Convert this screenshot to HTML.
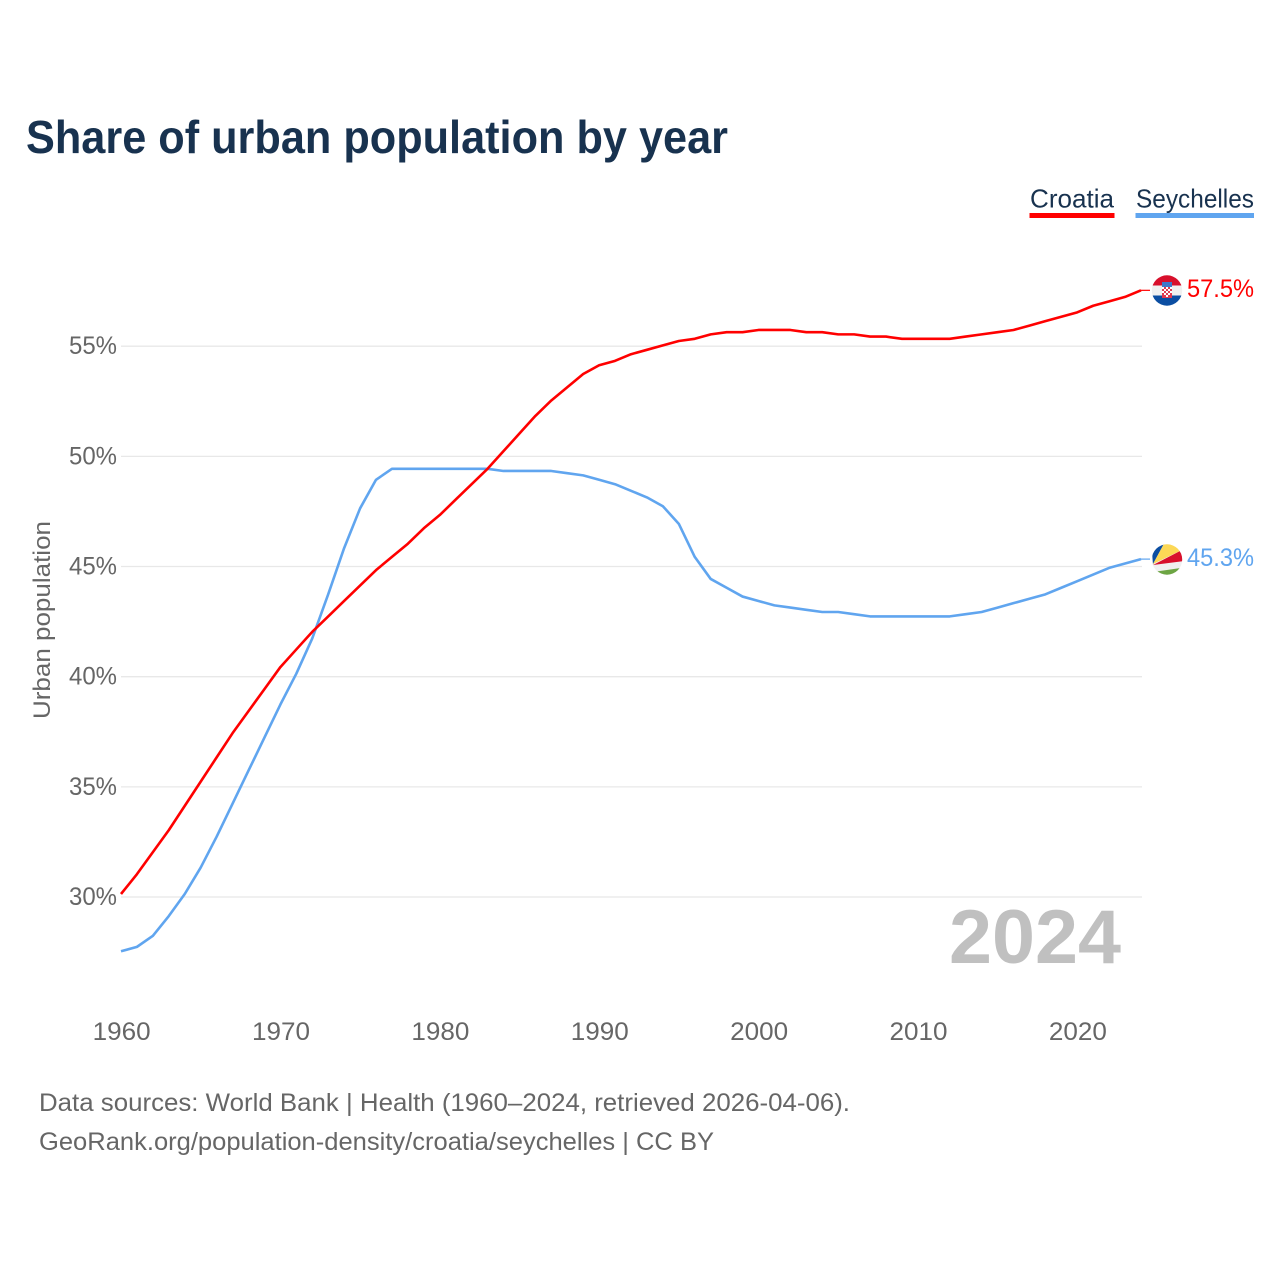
<!DOCTYPE html>
<html lang="en">
<head>
<meta charset="utf-8">
<title>Share of urban population by year</title>
<style>
html,body{margin:0;padding:0;background:#fff;width:1280px;height:1280px;overflow:hidden}
svg{display:block}
text{font-family:"Liberation Sans",sans-serif}
</style>
</head>
<body>
<svg id="chart" xmlns="http://www.w3.org/2000/svg" width="1280" height="1280" viewBox="0 0 1280 1280">
  <rect x="0" y="0" width="1280" height="1280" fill="#ffffff"/>
  <text x="26" y="153" font-size="46" font-weight="700" fill="#18324f" textLength="702" lengthAdjust="spacingAndGlyphs">Share of urban population by year</text>

  <g>
    <text x="1030" y="207.500" font-size="26" fill="#18324f" textLength="84" lengthAdjust="spacingAndGlyphs">Croatia</text>
    <rect x="1029.500" y="213" width="85" height="5" fill="#ff0000"/>
  </g>
  <g>
    <text x="1136" y="207.500" font-size="26" fill="#18324f" textLength="118" lengthAdjust="spacingAndGlyphs">Seychelles</text>
    <rect x="1135.500" y="213" width="118.500" height="5" fill="#60a5ef"/>
  </g>

  <g id="grid"></g>
  <g id="yticks"></g>
  <g id="xticks"></g>
  <text transform="translate(50 620) rotate(-90)" text-anchor="middle" font-size="24" fill="#666666" textLength="198" lengthAdjust="spacingAndGlyphs">Urban population</text>

  <text x="949" y="963" font-size="76" font-weight="700" fill="#c0c0c0" textLength="172" lengthAdjust="spacingAndGlyphs">2024</text>

  <g id="series" transform="translate(0 -0.8)"></g>

  <defs>
    <clipPath id="clip-hr"><circle cx="1167" cy="290.500" r="15.200"/></clipPath>
    <clipPath id="clip-sc"><circle cx="1167" cy="559.500" r="15.200"/></clipPath>
  </defs>
  <g id="flag-croatia" clip-path="url(#clip-hr)">
    <rect x="1151" y="275" width="32" height="10.500" fill="#d8102c"/>
    <rect x="1151" y="285.500" width="32" height="10" fill="#f0f0f0"/>
    <rect x="1151" y="295.500" width="32" height="11" fill="#0b4ea2"/>
    <rect x="1162" y="282" width="10" height="5" fill="#3f78c9"/>
    <rect x="1162" y="287" width="10" height="11" fill="#e03a50"/>
    <path d="M1162 287h2v2h-2zM1166 287h2v2h-2zM1170 287h2v2h-2zM1164 289h2v2h-2zM1168 289h2v2h-2zM1162 291h2v2h-2zM1166 291h2v2h-2zM1170 291h2v2h-2zM1164 293h2v2h-2zM1168 293h2v2h-2zM1166 295h2v2h-2z" fill="#ffffff"/>
  </g>
  <g id="flag-seychelles" clip-path="url(#clip-sc)">
    <rect x="1151" y="544" width="32" height="31" fill="#f0f0f0"/>
    <polygon points="1153,564 1151,540 1166,540" fill="#0b4ea2"/>
    <polygon points="1153,564 1166,540 1184,540 1184,549" fill="#fcd856"/>
    <polygon points="1153,565 1184,549 1184,561" fill="#d8102c"/>
    <polygon points="1153,572 1184,567.500 1184,580 1153,580" fill="#6da544"/>
  </g>

  <text id="label-croatia" x="1187" y="297" font-size="25" fill="#ff0000" textLength="67" lengthAdjust="spacingAndGlyphs">57.5%</text>
  <text id="label-seychelles" x="1187" y="566" font-size="25" fill="#60a5ef" textLength="67" lengthAdjust="spacingAndGlyphs">45.3%</text>

  <text x="39" y="1111" font-size="25" fill="#666666" textLength="811" lengthAdjust="spacingAndGlyphs">Data sources: World Bank | Health (1960–2024, retrieved 2026-04-06).</text>
  <text x="39" y="1150" font-size="25" fill="#666666" textLength="675" lengthAdjust="spacingAndGlyphs">GeoRank.org/population-density/croatia/seychelles | CC BY</text>
</svg>
<script>
const startYear = 1960;
const yTickValues = [30, 35, 40, 45, 50, 55];
const yTickLabels = ["30%", "35%", "40%", "45%", "50%", "55%"];
const xTickValues = [1960, 1970, 1980, 1990, 2000, 2010, 2020];
const xTickLabels = ["1960", "1970", "1980", "1990", "2000", "2010", "2020"];
const croatiaValues = [30.1,31.0,32.0,33.0,34.1,35.2,36.3,37.4,38.4,39.4,40.4,41.2,42.0,42.7,43.4,44.1,44.8,45.4,46.0,46.7,47.3,48.0,48.7,49.4,50.2,51.0,51.8,52.5,53.1,53.7,54.1,54.3,54.6,54.8,55.0,55.2,55.3,55.5,55.6,55.6,55.7,55.7,55.7,55.6,55.6,55.5,55.5,55.4,55.4,55.3,55.3,55.3,55.3,55.4,55.5,55.6,55.7,55.9,56.1,56.3,56.5,56.8,57.0,57.2,57.5];
const seychellesValues = [27.5,27.7,28.2,29.1,30.1,31.3,32.7,34.2,35.7,37.2,38.7,40.1,41.7,43.7,45.8,47.6,48.9,49.4,49.4,49.4,49.4,49.4,49.4,49.4,49.3,49.3,49.3,49.3,49.2,49.1,48.9,48.7,48.4,48.1,47.7,46.9,45.4,44.4,44.0,43.6,43.4,43.2,43.1,43.0,42.9,42.9,42.8,42.7,42.7,42.7,42.7,42.7,42.7,42.8,42.9,43.1,43.3,43.5,43.7,44.0,44.3,44.6,44.9,45.1,45.3];

const SVG_NS = "http://www.w3.org/2000/svg";
function xScale(year) { return 121 + (year - 1960) * (1141 - 121) / 64; }
function yScale(value) { return 897 - (value - 30) * (897 - 346.2) / 25; }
function make(tag, attrs, parent) {
  const el = document.createElementNS(SVG_NS, tag);
  for (const k in attrs) el.setAttribute(k, attrs[k]);
  parent.appendChild(el);
  return el;
}

const grid = document.getElementById("grid");
const yticks = document.getElementById("yticks");
yTickValues.forEach(function (v, i) {
  const line = make("line", { x1: 121, x2: 1142, y1: yScale(v), y2: yScale(v), stroke: "#e8e8e8", "stroke-width": 1.3 }, grid);
  
  
  const t = make("text", { x: 117, y: yScale(v) + 8, "text-anchor": "end", "font-size": 25, fill: "#666666", textLength: 48, lengthAdjust: "spacingAndGlyphs" }, yticks);
  
  
  t.textContent = yTickLabels[i];
});

const xticks = document.getElementById("xticks");
xTickValues.forEach(function (v, i) {
  const t = make("text", { x: xScale(v) + 0.7, y: 1040, "text-anchor": "middle", "font-size": 25, fill: "#666666", textLength: 58, lengthAdjust: "spacingAndGlyphs" }, xticks);
  
  
  t.textContent = xTickLabels[i];
});

function drawLine(values, color, name) {
  const group = document.getElementById("series");
  const pts = values.map(function (v, i) { return xScale(startYear + i).toFixed(2) + "," + yScale(v).toFixed(2); });
  const last = values[values.length - 1];
  const stub = make("line", { x1: xScale(startYear + values.length - 1), x2: 1150, y1: yScale(last), y2: yScale(last), stroke: color, "stroke-width": 1.2 }, group);
  
  
  const path = make("polyline", { points: pts.join(" "), fill: "none", stroke: color, "stroke-width": 2.6, "stroke-linejoin": "round" }, group);
  
  
}
drawLine(seychellesValues, "#60a5ef", "line-seychelles");
drawLine(croatiaValues, "#ff0000", "line-croatia");
</script>
</body>
</html>
